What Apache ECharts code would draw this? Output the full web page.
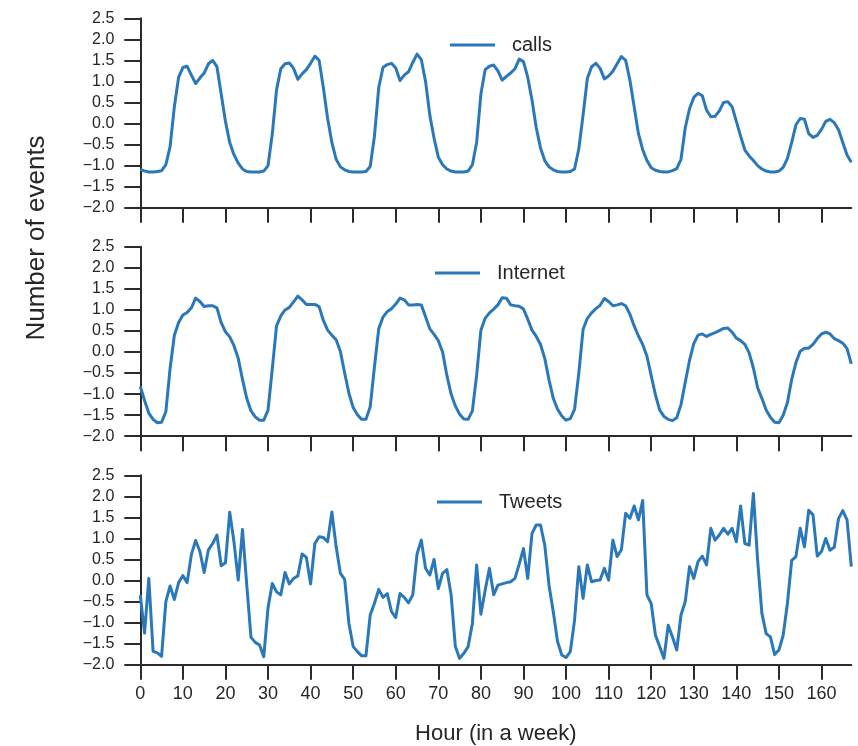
<!DOCTYPE html>
<html>
<head>
<meta charset="utf-8">
<script src="https://cdn.jsdelivr.net/npm/echarts@6/dist/echarts.min.js"></script>
<style>
  html, body { margin: 0; padding: 0; background: #ffffff; }
  #chart { width: 858px; height: 746px; }
</style>
</head>
<body>
<div id="chart"></div>
<script>
// ---- data (hour index 0..167) ----
const seriesNames = ['calls', 'Internet', 'Tweets'];
const xTicks = [0, 10, 20, 30, 40, 50, 60, 70, 80, 90, 100, 110, 120, 130, 140, 150, 160];
const yTicks = [-2.0, -1.5, -1.0, -0.5, 0.0, 0.5, 1.0, 1.5, 2.0, 2.5];
const xLabel = 'Hour (in a week)';
const yLabel = 'Number of events';

const calls = [
  -1.09, -1.13, -1.15, -1.15, -1.14, -1.12, -0.98, -0.55, 0.40, 1.10,
  1.33, 1.36, 1.15, 0.95, 1.08, 1.20, 1.42, 1.50, 1.35, 0.70,
  0.05, -0.45, -0.74, -0.94, -1.08, -1.14, -1.15, -1.15, -1.15, -1.13,
  -1.00, -0.25, 0.80, 1.30, 1.42, 1.44, 1.31, 1.05, 1.18, 1.28,
  1.43, 1.60, 1.50, 0.85, 0.12, -0.45, -0.85, -1.03, -1.10, -1.14,
  -1.15, -1.15, -1.15, -1.14, -1.02, -0.30, 0.85, 1.33, 1.40, 1.43,
  1.32, 1.02, 1.15, 1.23, 1.45, 1.65, 1.52, 1.00, 0.20, -0.35,
  -0.80, -0.98, -1.08, -1.13, -1.15, -1.15, -1.15, -1.13, -0.98, -0.45,
  0.70, 1.28, 1.36, 1.39, 1.25, 1.03, 1.12, 1.20, 1.30, 1.53,
  1.47, 1.10, 0.56, -0.10, -0.58, -0.88, -1.03, -1.10, -1.14, -1.15,
  -1.15, -1.14, -1.08, -0.60, 0.20, 1.07, 1.35, 1.43, 1.31, 1.06,
  1.13, 1.24, 1.42, 1.59, 1.50, 1.03, 0.40, -0.24, -0.62, -0.88,
  -1.05, -1.11, -1.14, -1.15, -1.15, -1.12, -1.07, -0.85, -0.10, 0.35,
  0.62, 0.72, 0.66, 0.32, 0.16, 0.17, 0.30, 0.50, 0.52, 0.40,
  0.05, -0.30, -0.63, -0.77, -0.88, -1.00, -1.08, -1.13, -1.15, -1.15,
  -1.13, -1.04, -0.83, -0.45, -0.03, 0.12, 0.10, -0.24, -0.33, -0.28,
  -0.14, 0.05, 0.10, 0.02, -0.15, -0.45, -0.75, -0.92
];

const internet = [
  -0.82, -1.15, -1.45, -1.60, -1.68, -1.67, -1.42, -0.39, 0.40, 0.70,
  0.88, 0.94, 1.05, 1.28, 1.20, 1.08, 1.10, 1.10, 1.05, 0.70,
  0.48, 0.36, 0.15, -0.15, -0.65, -1.10, -1.40, -1.54, -1.62, -1.62,
  -1.38, -0.40, 0.62, 0.86, 1.00, 1.06, 1.19, 1.33, 1.24, 1.13,
  1.13, 1.13, 1.08, 0.75, 0.52, 0.40, 0.29, 0.01, -0.50, -0.98,
  -1.32, -1.49, -1.60, -1.60, -1.30, -0.35, 0.55, 0.83, 0.96, 1.03,
  1.14, 1.28, 1.24, 1.12, 1.12, 1.13, 1.12, 0.84, 0.55, 0.42,
  0.27, 0.00, -0.55, -1.00, -1.28, -1.48, -1.59, -1.60, -1.40, -0.55,
  0.52, 0.80, 0.93, 1.02, 1.12, 1.29, 1.28, 1.12, 1.10, 1.09,
  1.02, 0.78, 0.52, 0.37, 0.18, -0.15, -0.66, -1.10, -1.36, -1.52,
  -1.62, -1.58, -1.36, -0.50, 0.54, 0.80, 0.93, 1.03, 1.11, 1.27,
  1.20, 1.10, 1.12, 1.15, 1.10, 0.90, 0.62, 0.38, 0.18, -0.10,
  -0.56, -1.02, -1.38, -1.53, -1.60, -1.63, -1.56, -1.25, -0.72, -0.20,
  0.20, 0.40, 0.43, 0.37, 0.42, 0.46, 0.51, 0.56, 0.57, 0.47,
  0.33, 0.27, 0.18, -0.02, -0.38, -0.85, -1.10, -1.38, -1.55, -1.67,
  -1.68, -1.50, -1.20, -0.65, -0.25, 0.02, 0.09, 0.09, 0.18, 0.32,
  0.43, 0.47, 0.43, 0.32, 0.27, 0.21, 0.08, -0.28
];

const tweets = [
  -0.35, -1.25, 0.05, -1.68, -1.72, -1.80, -0.50, -0.13, -0.45, -0.05,
  0.12, -0.05, 0.62, 0.95, 0.69, 0.19, 0.73, 0.88, 1.08, 0.35,
  0.42, 1.62, 0.92, 0.01, 1.21, -0.10, -1.35, -1.47, -1.53, -1.81,
  -0.65, -0.07, -0.27, -0.34, 0.19, -0.08, 0.05, 0.11, 0.63, 0.55,
  -0.08, 0.88, 1.04, 1.02, 0.92, 1.63, 0.80, 0.17, 0.03, -1.02,
  -1.57, -1.69, -1.79, -1.79, -0.82, -0.54, -0.21, -0.40, -0.31, -0.74,
  -0.88, -0.31, -0.40, -0.53, -0.34, 0.63, 0.96, 0.29, 0.13, 0.50,
  -0.19, 0.17, 0.26, -0.34, -1.57, -1.85, -1.73, -1.57, -1.02, 0.37,
  -0.80, -0.23, 0.29, -0.34, -0.11, -0.08, -0.05, -0.03, 0.05, 0.39,
  0.76, 0.05, 1.12, 1.32, 1.32, 0.84, -0.11, -0.74, -1.45, -1.77,
  -1.83, -1.69, -0.94, 0.33, -0.42, 0.37, -0.03, 0.00, 0.01, 0.29,
  0.01, 0.96, 0.57, 0.73, 1.60, 1.48, 1.77, 1.44, 1.90, -0.34,
  -0.55, -1.30, -1.57, -1.85, -1.06, -1.34, -1.65, -0.82, -0.50, 0.33,
  0.05, 0.45, 0.58, 0.37, 1.24, 0.96, 1.08, 1.24, 1.10, 1.24,
  0.92, 1.77, 0.88, 0.84, 2.07, 0.48, -0.78, -1.26, -1.34, -1.76,
  -1.65, -1.30, -0.54, 0.48, 0.57, 1.24, 0.80, 1.67, 1.56, 0.58,
  0.69, 1.00, 0.72, 0.79, 1.47, 1.66, 1.44, 0.33
];

const allSeries = [calls, internet, tweets];

// ---- layout / style ----
const FONT = '"Liberation Sans", Arial, Helvetica, sans-serif';
const TEXT = '#262626';
const AXIS = '#2b2b2b';
const LINE = '#2a78b9';
const gridTops = [18.3, 246.8, 475.3];
const gridH = 189.4;
const gridLeft = 140.3;
const gridW = 711;
const legendPos = [
  { left: 445, top: 29 },
  { left: 430, top: 257 },
  { left: 432, top: 486 }
];

const chart = echarts.init(document.getElementById('chart'), null, { renderer: 'canvas' });

const fmtY = v => {
  const s = Math.abs(v).toFixed(1);
  return v < -1e-9 ? '\u2212' + s : s;
};

const grids = [], xAxes = [], yAxes = [], series = [], legends = [];
for (let i = 0; i < 3; i++) {
  grids.push({ left: gridLeft, top: gridTops[i], width: gridW, height: gridH, containLabel: false });
  xAxes.push({
    type: 'value', gridIndex: i, min: 0, max: 167,
    axisLine: { show: true, onZero: false, lineStyle: { color: AXIS, width: 2 } },
    axisTick: { show: true, inside: false, length: 15, customValues: xTicks, lineStyle: { color: AXIS, width: 2 } },
    axisLabel: {
      show: i === 2, customValues: xTicks, margin: 20,
      fontSize: 18, color: TEXT, fontFamily: FONT
    },
    splitLine: { show: false },
    name: i === 2 ? xLabel : '',
    nameLocation: 'middle', nameGap: 58,
    nameTextStyle: { fontSize: 22, color: TEXT, fontFamily: FONT }
  });
  yAxes.push({
    type: 'value', gridIndex: i, min: -2.0, max: 2.5, interval: 0.5,
    axisLine: { show: true, onZero: false, lineStyle: { color: AXIS, width: 2 } },
    axisTick: { show: true, inside: false, length: 16, lineStyle: { color: AXIS, width: 2 } },
    axisLabel: {
      show: true, margin: 26, fontSize: 16, color: TEXT, fontFamily: FONT,
      formatter: fmtY
    },
    splitLine: { show: false }
  });
  series.push({
    name: seriesNames[i], type: 'line', xAxisIndex: i, yAxisIndex: i,
    data: allSeries[i].map((v, h) => [h, v]),
    showSymbol: false, symbol: 'none',
    lineStyle: { color: LINE, width: 3, join: 'round' },
    itemStyle: { color: LINE },
    animation: false
  });
  legends.push({
    data: [seriesNames[i]],
    left: legendPos[i].left, top: legendPos[i].top,
    icon: 'rect', itemWidth: 45, itemHeight: 3,
    textStyle: { fontSize: 20, color: TEXT, fontFamily: FONT, padding: [0, 0, 0, 12], lineHeight: 22 },
    selectedMode: false
  });
}

chart.setOption({
  backgroundColor: '#ffffff',
  animation: false,
  grid: grids,
  xAxis: xAxes,
  yAxis: yAxes,
  legend: legends,
  series: series,
  graphic: [{
    type: 'text',
    x: 37, y: 238,
    rotation: Math.PI / 2,
    style: { text: yLabel, fontSize: 26, fill: TEXT, fontFamily: FONT, align: 'center', verticalAlign: 'middle' }
  }]
});
</script>
</body>
</html>
